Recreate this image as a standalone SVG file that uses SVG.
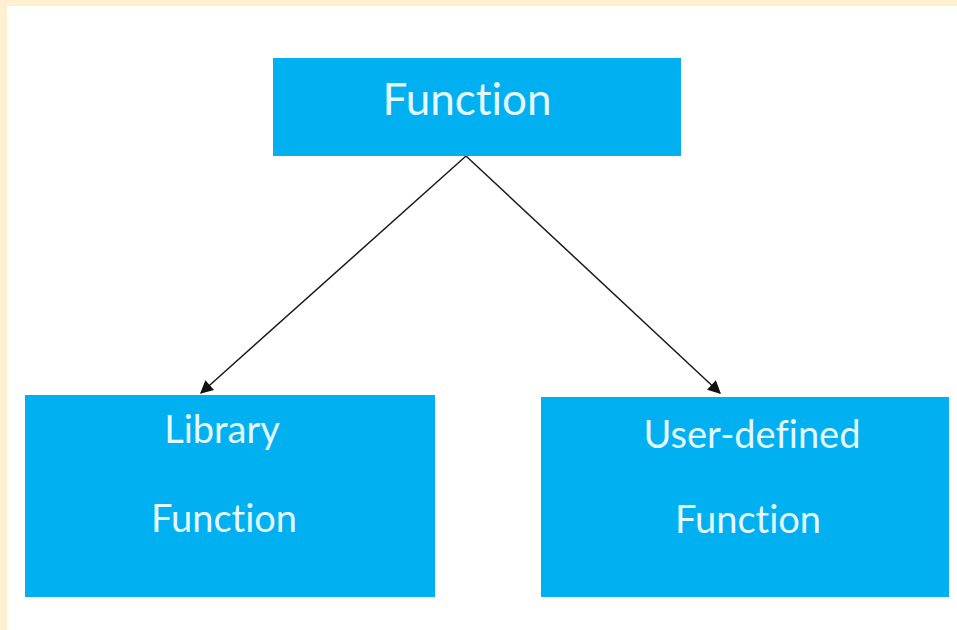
<svg xmlns="http://www.w3.org/2000/svg" width="957" height="630" viewBox="0 0 957 630">
<defs>
<style>
.box{fill:#00B0F0;}
.lbl{font-family:Lato,"Open Sans","Liberation Sans",sans-serif;fill:#E6F8FF;text-anchor:middle;font-variant-ligatures:none;font-feature-settings:"liga" 0;}
.big{font-size:44px;}
.sm{font-size:38px;}
.conn{stroke:#1a1a1a;stroke-width:1.5;fill:none;marker-end:url(#ah);}
</style>
<marker id="ah" viewBox="0 0 10 10" refX="9" refY="5" markerWidth="15" markerHeight="13" markerUnits="userSpaceOnUse" orient="auto">
<path d="M0,0 L10,5 L0,10 z" fill="#111"/>
</marker>
</defs>
<rect x="0" y="0" width="957" height="630" fill="#FFFFFF"/>
<rect x="0" y="0" width="957" height="6" fill="#FFF0CF"/>
<rect x="0" y="0" width="7" height="630" fill="#FFF0CF"/>
<g id="connectors">
<line class="conn" x1="466" y1="156" x2="201" y2="393"/>
<line class="conn" x1="466" y1="156" x2="720" y2="393"/>
</g>
<g id="node-function">
<rect class="box" x="273" y="58" width="408" height="98"/>
<text class="lbl big" x="467" y="115">Function</text>
</g>
<g id="node-library">
<rect class="box" x="25" y="395" width="410" height="202"/>
<text class="lbl sm" x="222" y="443">Library</text>
<text class="lbl sm" x="224" y="532">Function</text>
</g>
<g id="node-user">
<rect class="box" x="541" y="397" width="408" height="200"/>
<text class="lbl sm" x="752" y="448">User-defined</text>
<text class="lbl sm" x="748" y="533">Function</text>
</g>
</svg>
